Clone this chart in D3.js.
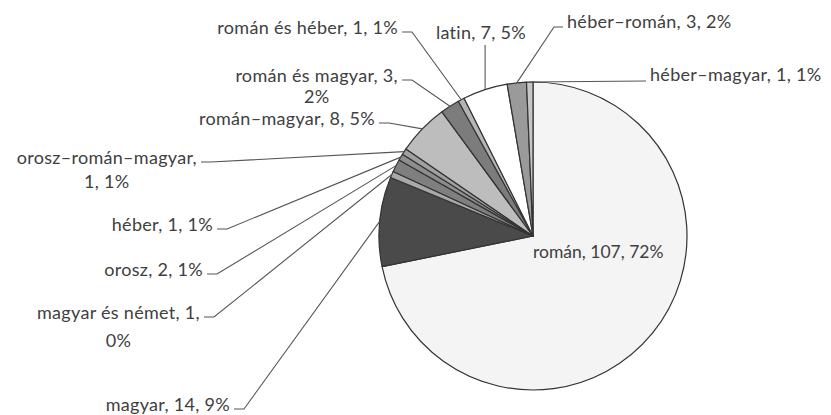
<!DOCTYPE html>
<meta charset="utf-8">
<script src="https://d3js.org/d3.v7.min.js"></script>
<style>
  body { margin: 0; background: #fff; }
  text { font-family: Lato, "Open Sans", sans-serif; font-size: 18px; letter-spacing: 0.3px; fill: #404040; }
  text.inside { letter-spacing: 0; font-size: 17.5px; }
</style>
<body>
<div id="chart"></div>
<script>
// slices, clockwise from 12 o'clock
var names = ["román", "magyar", "magyar és német", "orosz", "héber", "orosz–román–magyar",
             "román–magyar", "román és magyar", "román és héber", "latin", "héber–román", "héber–magyar"];
var counts = [107, 14, 1, 2, 1, 1, 8, 3, 1, 7, 3, 1];
var percents = ["72%", "9%", "0%", "1%", "1%", "1%", "5%", "2%", "1%", "5%", "2%", "1%"];
var fills = ["#f4f4f4", "#4a4a4a", "#a9a9a9", "#7f7f7f", "#8e8e8e", "#a0a0a0",
             "#bdbdbd", "#7c7c7c", "#b4b4b4", "#ffffff", "#9a9a9a", "#c6c6c6"];

var width = 831, height = 415;
var cx = 533, cy = 236, r = 154;

// where each label sits: x, y, anchor, and where (if anywhere) the text breaks
var labelPos = [
  {x: 533, y: 252, anchor: "start", inside: true},
  {x: 230, y: 405, anchor: "end"},
  {x: 200, y: 313, anchor: "end", split: "count", gap: 28},
  {x: 203, y: 270, anchor: "end"},
  {x: 213, y: 225, anchor: "end"},
  {x: 197, y: 158, anchor: "end", split: "name", gap: 24},
  {x: 375, y: 119, anchor: "end"},
  {x: 398, y: 76, anchor: "end", split: "count", gap: 21},
  {x: 398, y: 28, anchor: "end"},
  {x: 481, y: 33, anchor: "middle", below: true},
  {x: 567, y: 22, anchor: "start"},
  {x: 650, y: 75, anchor: "start"}
];

var data = names.map(function(n, i) {
  return {name: n, count: counts[i], pct: percents[i], fill: fills[i], pos: labelPos[i]};
});

var svg = d3.select("#chart").append("svg")
  .attr("width", width).attr("height", height);

var pie = d3.pie().sort(null).value(function(d) { return d.count; });
var arc = d3.arc().innerRadius(0).outerRadius(r);
var edge = d3.arc().innerRadius(r).outerRadius(r);
var arcs = pie(data);

var g = svg.append("g").attr("transform", "translate(" + cx + "," + cy + ")");

g.selectAll("path.slice")
  .data(arcs)
  .enter().append("path")
    .attr("class", "slice")
    .attr("d", arc)
    .attr("fill", function(d) { return d.data.fill; })
    .attr("stroke", "#333")
    .attr("stroke-width", 1.2)
    .attr("stroke-linejoin", "round");

// labels
arcs.forEach(function(a) {
  var p = a.data.pos, d = a.data;
  var lines;
  if (p.split === "name") lines = [d.name + ",", d.count + ", " + d.pct];
  else if (p.split === "count") lines = [d.name + ", " + d.count + ",", d.pct];
  else lines = [d.name + ", " + d.count + ", " + d.pct];

  var t1 = svg.append("text")
    .attr("class", p.inside ? "inside" : null)
    .attr("x", p.x).attr("y", p.y)
    .attr("dy", "0.35em")
    .attr("text-anchor", p.anchor)
    .text(lines[0]);
  var w = t1.node().getComputedTextLength();
  if (lines.length > 1) {
    svg.append("text")
      .attr("x", p.x - w / 2).attr("y", p.y + p.gap)
      .attr("dy", "0.35em")
      .attr("text-anchor", "middle")
      .text(lines[1]);
  }
  if (p.inside) return;

  // leader line to the slice's outer edge
  var e = edge.centroid(a);
  var end = [cx + e[0], cy + e[1]];
  var pts;
  if (p.below) {
    pts = [[end[0], p.y + 12], end];
  } else if (p.anchor === "start") {
    var sx = p.x - 4;
    if (Math.abs(end[1] - (p.y + 6)) < 10) {
      pts = [[sx, p.y + 6], end];
    } else {
      pts = [[sx, p.y + 5], [sx - 9, p.y + 5], end];
    }
  } else {
    var ex = p.x + 4;
    pts = [[ex, p.y + 4], [ex + 10, p.y + 4], end];
  }
  svg.append("path")
    .attr("d", d3.line()(pts))
    .attr("fill", "none")
    .attr("stroke", "#555")
    .attr("stroke-width", 1.1);
});
</script>
</body>
